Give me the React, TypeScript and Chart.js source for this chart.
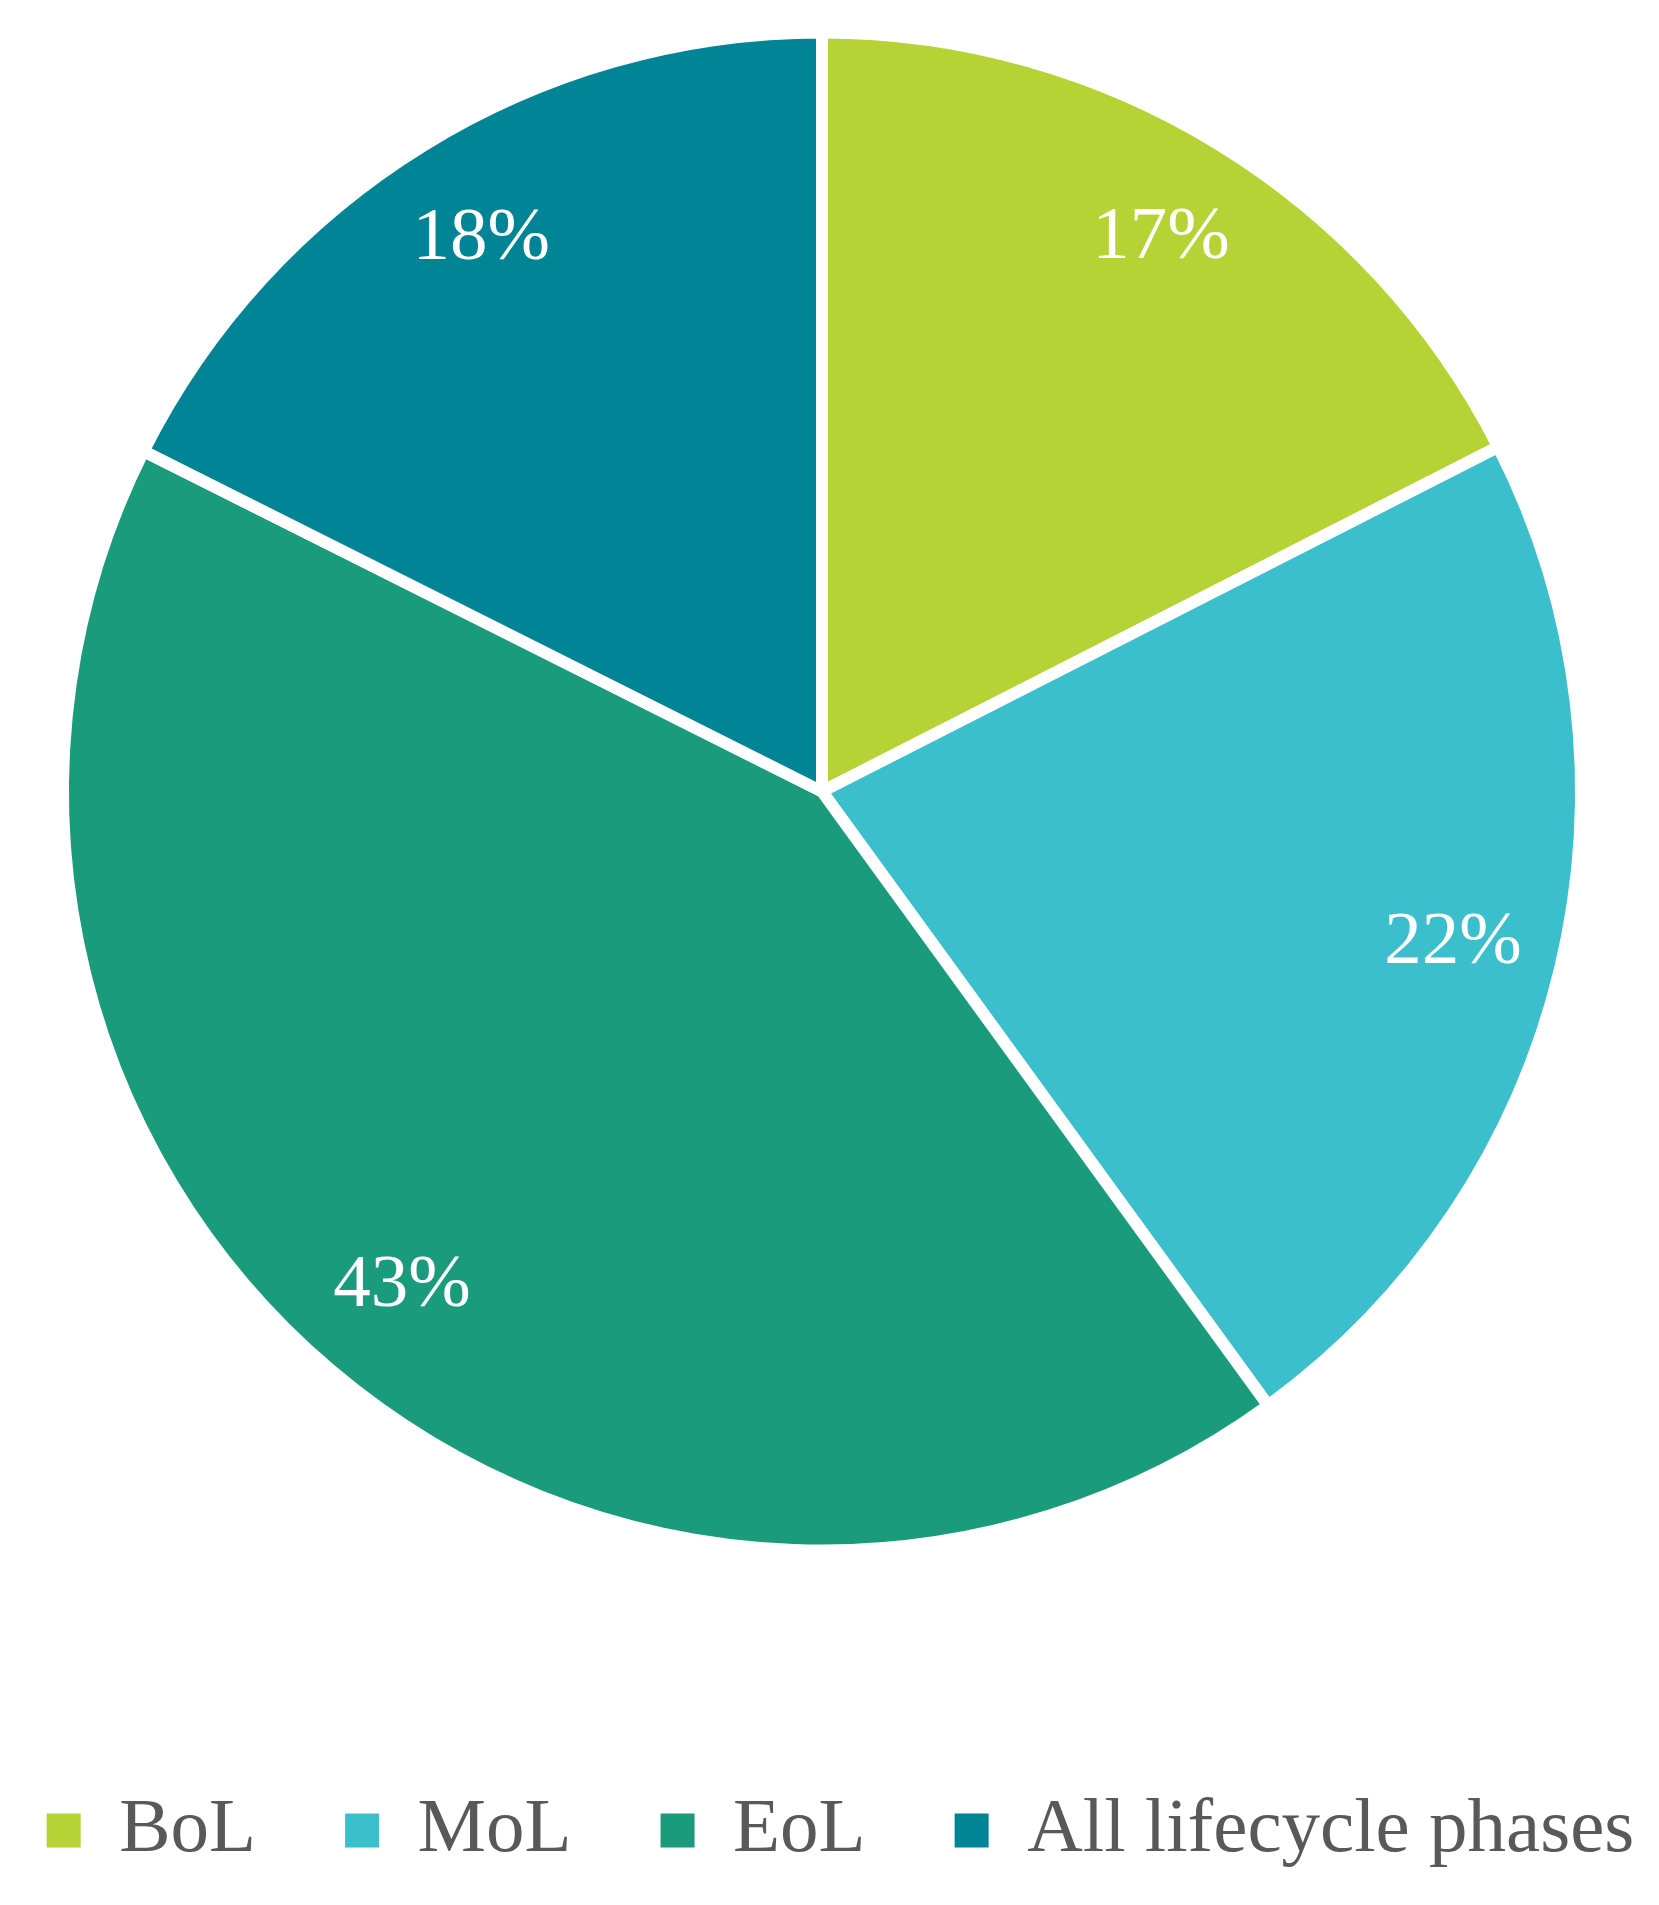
import React, { useEffect, useRef } from "react";
import { Chart, registerables, DoughnutController } from "chart.js";

Chart.register(...registerables);

const categories = ["BoL", "MoL", "EoL", "All lifecycle phases"];
const shares = [17.5, 22.5, 42.4, 17.6];
const sliceLabels = ["17%", "22%", "43%", "18%"];
const colors = ["#B5D334", "#3BBFCC", "#199B7C", "#008496"];

const sliceLabelPlugin = {
  id: "sliceLabels",
  afterDatasetsDraw(chart: any) {
    const meta = chart.getDatasetMeta(0);
    const ctx = chart.ctx;
    ctx.save();
    ctx.font = '75px "Liberation Serif"';
    ctx.fillStyle = "#ffffff";
    ctx.textAlign = "center";
    ctx.textBaseline = "middle";
    meta.data.forEach((arc: any, i: number) => {
      const p = arc.getProps(["x", "y", "startAngle", "endAngle", "outerRadius"], true);
      const mid = (p.startAngle + p.endAngle) / 2;
      const r = p.outerRadius * 0.855;
      ctx.fillText(sliceLabels[i], p.x + Math.cos(mid) * r, p.y + Math.sin(mid) * r);
    });
    ctx.restore();
  },
};

export default function App() {
  const ref = useRef<HTMLCanvasElement | null>(null);
  useEffect(() => {
    if (!ref.current) return;
    const baseGen = (DoughnutController as any).overrides.plugins.legend.labels.generateLabels;
    const chart = new Chart(ref.current, {
      type: "pie",
      data: {
        labels: categories,
        datasets: [
          {
            data: shares,
            backgroundColor: colors,
            borderColor: "#ffffff",
            borderWidth: 12,
          },
        ],
      },
      options: {
        animation: false,
        responsive: false,
        maintainAspectRatio: false,
        radius: 759,
        layout: { padding: 0 },
        plugins: {
          tooltip: { enabled: false },
          title: {
            display: true,
            position: "right",
            fullSize: false,
            text: " ",
            color: "rgba(0,0,0,0)",
            font: { size: 1, lineHeight: 1 },
            padding: 18,
          },
          legend: {
            position: "bottom",
            labels: {
              boxWidth: 34,
              boxHeight: 34,
              padding: 89,
              color: "#595959",
              font: { family: '"Liberation Serif"', size: 77 },
              generateLabels: (c: any) =>
                baseGen(c).map((l: any) => ({ ...l, lineWidth: 0, strokeStyle: "rgba(0,0,0,0)" })),
            },
          },
        },
      },
      plugins: [sliceLabelPlugin],
    });
    return () => chart.destroy();
  }, []);
  return (
    <div
      style={{
        position: "fixed",
        left: 0,
        top: 0,
        width: 1659,
        height: 1905,
        overflow: "hidden",
        background: "#ffffff",
      }}
    >
      <canvas
        ref={ref}
        width={1901}
        height={1999}
        style={{ position: "absolute", left: -110, top: -120, width: 1901, height: 1999 }}
      />
    </div>
  );
}
